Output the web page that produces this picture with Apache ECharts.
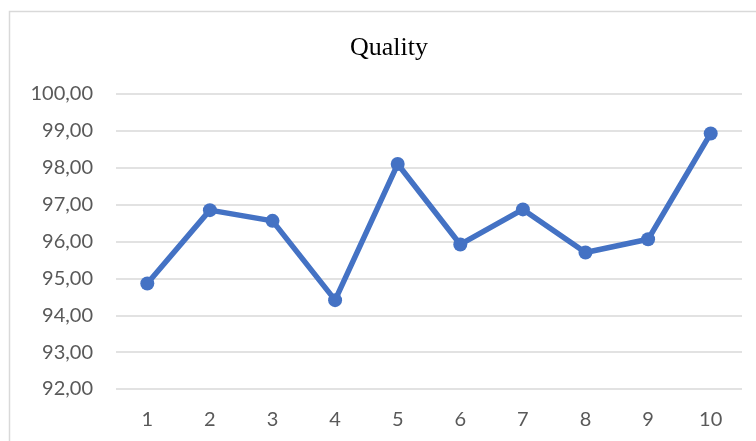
<!DOCTYPE html>
<html>
<head>
<meta charset="utf-8">
<script src="https://cdn.jsdelivr.net/npm/echarts@6/dist/echarts.min.js"></script>
<style>
  html, body { margin: 0; padding: 0; background: #ffffff; }
  #chart { width: 756px; height: 441px; }
</style>
</head>
<body>
<div id="chart"></div>
<script>
// Quality score per sample
const categories = ['1', '2', '3', '4', '5', '6', '7', '8', '9', '10'];
const qualityValues = [94.86, 96.85, 96.56, 94.41, 98.10, 95.92, 96.87, 95.70, 96.06, 98.93];
const chartTitle = 'Quality';
const yMin = 92;
const yMax = 100;
const yStep = 1;

// Decimal comma with two fraction digits, e.g. 100,00
const fmt = v => v.toFixed(2).replace('.', ',');

const chart = echarts.init(document.getElementById('chart'), null, { renderer: 'canvas' });

chart.setOption({
  backgroundColor: '#ffffff',
  animation: false,
  title: {
    text: chartTitle,
    left: 384,
    top: 30,
    textAlign: 'center',
    textStyle: {
      fontFamily: '"Liberation Serif", "DejaVu Serif", serif',
      fontWeight: 'normal',
      fontSize: 26,
      color: '#000000'
    }
  },
  graphic: [{
    type: 'rect',
    shape: { x: 9.5, y: 11.5, width: 800, height: 500 },
    style: { fill: 'none', stroke: '#d9d9d9', lineWidth: 1.5 },
    silent: true,
    z: -1
  }],
  grid: {
    left: 116,
    right: 14,
    top: 94,
    bottom: 52,
    containLabel: false
  },
  xAxis: {
    type: 'category',
    data: categories,
    boundaryGap: true,
    axisLine: { show: false },
    axisTick: { show: false },
    axisLabel: {
      margin: 21,
      fontFamily: 'Lato, "Open Sans", sans-serif',
      fontSize: 20,
      color: '#595959'
    },
    splitLine: { show: false }
  },
  yAxis: {
    type: 'value',
    min: yMin,
    max: yMax,
    interval: yStep,
    axisLine: { show: false },
    axisTick: { show: false },
    axisLabel: {
      margin: 23,
      formatter: fmt,
      fontFamily: 'Lato, "Open Sans", sans-serif',
      fontSize: 20,
      color: '#595959'
    },
    splitLine: {
      show: true,
      lineStyle: { color: '#d9d9d9', width: 1.5 }
    }
  },
  series: [{
    name: chartTitle,
    type: 'line',
    data: qualityValues,
    symbol: 'circle',
    symbolSize: 14,
    showSymbol: true,
    lineStyle: { color: '#4472c4', width: 5.5, cap: 'round', join: 'round' },
    itemStyle: { color: '#4472c4', borderWidth: 0 },
    z: 3
  }]
});
</script>
</body>
</html>
